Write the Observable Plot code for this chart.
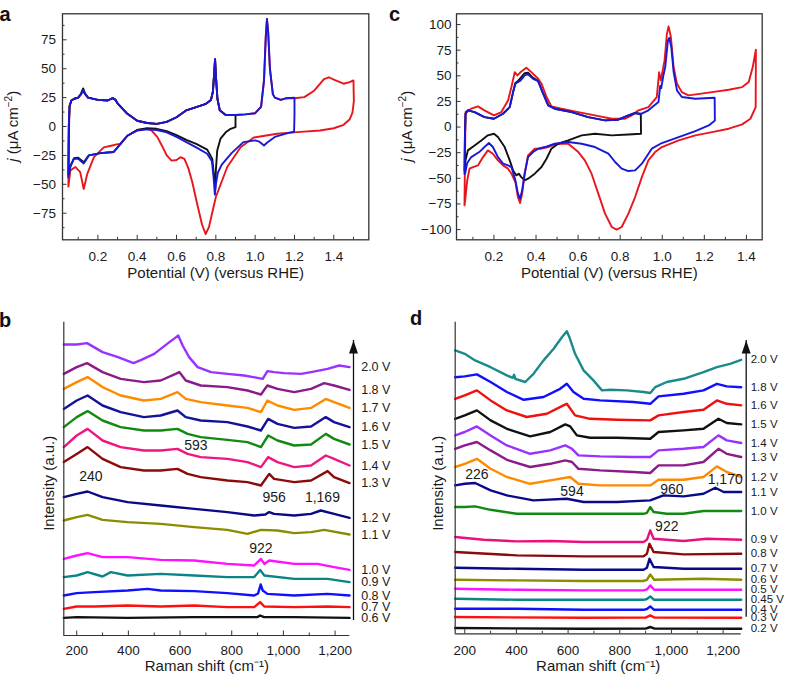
<!DOCTYPE html>
<html><head><meta charset="utf-8">
<script src="https://cdn.jsdelivr.net/npm/d3@7"></script>
<script src="https://cdn.jsdelivr.net/npm/@observablehq/plot@0.6"></script>
<style>
body{margin:0;background:#fff;}
#fig{position:relative;width:788px;height:680px;overflow:hidden;}
</style></head><body><div id="fig"></div><script>
// ---------- Panel a : CV (potential V, current density µA cm^-2) ----------
const aRed = [[0.05,-52],[0.052,-10],[0.056,17],[0.065,22.5],[0.08,24],[0.1,25],[0.113,27.5],[0.125,31],[0.135,28],[0.15,25],[0.2,23],[0.25,22.5],[0.275,24.5],[0.29,23],[0.3,20],[0.35,11],[0.4,5],[0.45,3],[0.5,2.3],[0.55,4],[0.6,8],[0.65,14],[0.7,16.7],[0.75,19.6],[0.775,23],[0.785,30],[0.791,45],[0.796,58],[0.801,42],[0.808,24],[0.82,14],[0.85,10],[0.9,10],[0.95,10.5],[1.0,11.5],[1.03,17],[1.045,40],[1.054,78],[1.06,93],[1.066,82],[1.075,50],[1.09,28],[1.1,25],[1.13,23],[1.16,24.5],[1.2,24.5],[1.25,25.4],[1.3,31],[1.35,41],[1.375,42.6],[1.4,40.5],[1.45,37],[1.48,38.4],[1.5,39.8],[1.502,22],[1.495,12],[1.48,6],[1.45,1.5],[1.4,-1.5],[1.33,-3.5],[1.23,-4.6],[1.112,-6.3],[0.993,-9.5],[0.926,-18],[0.858,-35],[0.8,-61],[0.765,-87],[0.748,-93],[0.73,-85],[0.705,-67],[0.68,-48],[0.66,-36],[0.64,-28],[0.62,-26.5],[0.6,-29],[0.575,-29.5],[0.55,-25],[0.53,-18],[0.502,-9],[0.47,-3],[0.45,-2],[0.4,-3],[0.35,-8],[0.315,-15],[0.295,-15.5],[0.273,-16.4],[0.23,-18],[0.18,-26.5],[0.146,-41],[0.128,-54],[0.11,-39.5],[0.085,-35],[0.06,-38],[0.05,-52]];
const aBlack = [[0.05,-42],[0.052,0],[0.056,18],[0.065,22.5],[0.08,24],[0.1,25],[0.113,28],[0.125,33],[0.135,28.5],[0.15,25],[0.2,23],[0.25,22.5],[0.275,24.5],[0.29,23],[0.3,20],[0.35,11],[0.4,5],[0.45,3],[0.5,2.3],[0.55,4],[0.6,8],[0.65,14],[0.7,16.7],[0.75,19.6],[0.775,23],[0.785,30],[0.791,45],[0.796,58],[0.801,42],[0.808,24],[0.82,14],[0.85,10],[0.9,10],[0.9,-0.6],[0.875,-2],[0.85,-5],[0.824,-10.4],[0.807,-20.7],[0.8,-38],[0.797,-54],[0.79,-42],[0.782,-28],[0.756,-20],[0.7,-15],[0.65,-11.5],[0.6,-7.5],[0.55,-4],[0.5,-2],[0.45,-1.5],[0.4,-3],[0.35,-8],[0.315,-15],[0.281,-22],[0.25,-22.5],[0.213,-23],[0.154,-25],[0.128,-31],[0.1,-27],[0.078,-27.5],[0.06,-34],[0.05,-42]];
const aBlue = [[0.05,-44],[0.052,0],[0.056,18],[0.065,22.5],[0.08,24],[0.1,25],[0.113,27.5],[0.125,31.5],[0.135,28],[0.15,25],[0.2,23],[0.25,22.5],[0.275,24.5],[0.29,23],[0.3,20],[0.35,11],[0.4,5],[0.45,3],[0.5,2.3],[0.55,4],[0.6,8],[0.65,14],[0.7,16.7],[0.75,19.6],[0.775,23],[0.785,30],[0.791,45],[0.796,58.5],[0.801,42],[0.808,24],[0.82,14],[0.85,10],[0.9,10],[0.95,10.5],[1.0,11.5],[1.03,17],[1.045,40],[1.054,78],[1.06,93],[1.066,82],[1.075,50],[1.09,28],[1.1,25],[1.13,23],[1.16,24.5],[1.2,25],[1.2,10],[1.198,-4.5],[1.17,-5.5],[1.1,-9],[1.06,-14],[1.045,-16.4],[1.02,-13],[1.0,-12],[0.94,-13.5],[0.88,-23],[0.83,-33],[0.81,-40],[0.8,-50],[0.795,-59],[0.789,-45],[0.78,-30],[0.756,-23.6],[0.7,-18],[0.65,-13.5],[0.6,-9],[0.55,-5],[0.5,-3],[0.45,-2.5],[0.4,-3.5],[0.35,-8],[0.315,-15],[0.281,-22],[0.25,-22.5],[0.213,-23],[0.154,-25],[0.128,-32],[0.1,-28],[0.078,-28],[0.06,-35],[0.05,-44]];

// ---------- Panel c : CV ----------
const cRed = [[0.06,-76.4],[0.063,-20],[0.065,14.6],[0.092,17.9],[0.124,20.2],[0.155,16.3],[0.2,11.4],[0.235,14.6],[0.267,26],[0.283,39],[0.299,53.6],[0.311,50.4],[0.327,53.6],[0.354,57.9],[0.378,53.6],[0.41,47.1],[0.426,42.3],[0.45,29.3],[0.473,20.2],[0.521,17.9],[0.601,14.6],[0.68,11.4],[0.76,8.1],[0.823,8.1],[0.855,11.4],[0.887,16.3],[0.934,19.5],[0.974,29.3],[0.985,53.6],[0.993,45.5],[1.011,65],[1.022,91],[1.03,98.2],[1.041,87.8],[1.054,58.5],[1.07,42.3],[1.093,34.1],[1.125,30.9],[1.237,34.1],[1.316,36.4],[1.38,39],[1.411,43.9],[1.43,58.5],[1.445,75.4],[1.444,19.5],[1.419,8.1],[1.38,2.6],[1.316,-1.6],[1.237,-4.9],[1.157,-8.1],[1.078,-13],[0.998,-19.5],[0.966,-24.4],[0.934,-32.5],[0.903,-48.8],[0.871,-68.3],[0.839,-84.5],[0.807,-97.5],[0.783,-100],[0.76,-97.5],[0.728,-84.5],[0.696,-65],[0.664,-45.5],[0.632,-32.5],[0.601,-24.4],[0.553,-16.3],[0.521,-16.3],[0.489,-16.9],[0.458,-19.5],[0.426,-21.1],[0.394,-21.1],[0.362,-27.6],[0.346,-45.5],[0.334,-65],[0.324,-74.1],[0.314,-68.3],[0.302,-53.6],[0.283,-45.5],[0.267,-40.6],[0.243,-37.4],[0.219,-32.5],[0.195,-26],[0.171,-22.75],[0.148,-29.3],[0.124,-37.4],[0.1,-39],[0.084,-40.6],[0.073,-52],[0.063,-71.5],[0.06,-76.4]];
const cBlack = [[0.06,-42.3],[0.062,-10],[0.065,13],[0.076,16.3],[0.108,14.6],[0.155,9.75],[0.2,8.1],[0.243,13],[0.275,19.5],[0.291,34.1],[0.302,43],[0.314,45],[0.327,48],[0.346,52.6],[0.362,53],[0.386,48],[0.41,44.9],[0.434,32.5],[0.458,21.1],[0.489,17.9],[0.569,14.6],[0.648,9.75],[0.728,6.5],[0.791,7.2],[0.839,11.4],[0.871,13.7],[0.898,13],[0.899,-6.5],[0.839,-7.2],[0.76,-8.1],[0.68,-6.5],[0.617,-8.1],[0.553,-13],[0.505,-16.3],[0.473,-21.1],[0.45,-30.9],[0.426,-39],[0.394,-45.5],[0.362,-50.4],[0.346,-52],[0.33,-48.8],[0.318,-45.5],[0.306,-47.1],[0.291,-42.3],[0.275,-32.5],[0.251,-19.5],[0.219,-9.75],[0.2,-6.5],[0.171,-8.1],[0.14,-13],[0.108,-17.9],[0.076,-22.75],[0.065,-32.5],[0.06,-42.3]];
const cBlue = [[0.06,-45.5],[0.062,-10],[0.065,13],[0.076,16.3],[0.108,14.6],[0.155,9.75],[0.2,8.1],[0.243,13],[0.275,19.5],[0.291,34.1],[0.302,42.3],[0.314,43.9],[0.327,45.5],[0.346,50.4],[0.362,51.4],[0.386,47.1],[0.41,44.9],[0.434,32.5],[0.458,21.1],[0.489,17.9],[0.569,14.6],[0.648,9.75],[0.728,6.5],[0.791,7.2],[0.839,11.4],[0.871,13.7],[0.895,12.4],[0.934,16.3],[0.982,24.4],[0.99,40],[0.995,38],[1.005,50],[1.014,58.5],[1.027,84.5],[1.033,87.1],[1.043,78],[1.054,53.6],[1.07,35.75],[1.093,29.3],[1.157,27.6],[1.249,28.6],[1.25,6.5],[1.221,1.6],[1.157,-3.9],[1.078,-9.75],[0.998,-15.6],[0.95,-21.1],[0.903,-35.75],[0.871,-42.3],[0.839,-42.9],[0.807,-40.6],[0.776,-34.1],[0.744,-26],[0.712,-22.75],[0.68,-19.5],[0.617,-16.3],[0.553,-14.6],[0.489,-16.3],[0.442,-19.5],[0.41,-21.1],[0.386,-24.4],[0.362,-29.3],[0.346,-45.5],[0.334,-61.75],[0.324,-69.9],[0.314,-65],[0.302,-52],[0.283,-39],[0.267,-37.4],[0.243,-35.75],[0.219,-29.3],[0.195,-19.5],[0.176,-15.6],[0.155,-19.5],[0.13,-24.4],[0.092,-29.3],[0.073,-35],[0.063,-45.5],[0.06,-45.5]];

// ---------- Panel b : Raman spectra (shift cm^-1, intensity a.u., offset) ----------
const b20 = [[150,145.5],[200,145.5],[240,146.2],[300,141.7],[360,139.2],[420,136.2],[450,137.8],[500,140.8],[550,145.8],[585,149.2],[593,150],[610,145],[635,139.2],[668,134.2],[720,131.7],[783,130.8],[848,130],[900,128.8],[920,128.3],[938,132.2],[964,131.7],[1003,131.2],[1068,130.8],[1107,131.7],[1171,133.3],[1216,135],[1256,134.2]];
const b18 = [[150,130.8],[200,134.2],[240,136.2],[300,131.7],[370,128.3],[460,126.7],[525,127.5],[583,130.8],[597,131.7],[622,127.5],[680,125],[783,124.2],[861,122.5],[913,120.5],[938,125],[977,123.3],[1042,121.7],[1107,123.3],[1158,126.2],[1196,125],[1256,122.8]];
const b17 = [[150,123.3],[200,126.7],[242,129.2],[300,124.2],[370,120],[460,117.5],[525,118.3],[590,121.7],[622,118.3],[680,116.7],[783,115],[861,113.8],[913,111.7],[938,117.5],[977,115],[1042,112.8],[1107,113.8],[1164,118.3],[1196,116.7],[1256,113.8]];
const b16 = [[150,113.3],[200,117.5],[242,120],[300,115],[370,111.7],[460,109.2],[525,110],[590,112.5],[622,109.2],[680,107.5],[783,106.7],[861,104.5],[913,102.5],[941,108.3],[977,105.8],[1042,103.8],[1107,104.5],[1164,109.2],[1196,106.7],[1256,104.2]];
const b15 = [[150,104.2],[200,109.2],[242,112.2],[300,107.5],[370,104.2],[460,102.5],[525,102.5],[590,103.3],[629,100.8],[680,99.2],[783,97.8],[861,96.7],[913,94.2],[941,100],[977,97.5],[1042,95],[1107,95.5],[1164,100.8],[1196,98.3],[1256,95.5]];
const b14 = [[150,94.2],[200,100],[242,103.3],[300,97.5],[370,94.2],[460,92.5],[525,92.5],[590,93.3],[629,90.8],[680,89.2],[783,88.3],[861,86.7],[913,84.2],[941,89.2],[977,86.7],[1042,84.2],[1107,85],[1164,90],[1196,88.3],[1256,85]];
const b13 = [[150,86.7],[200,90.8],[242,94.2],[300,88.3],[370,84.2],[460,82.5],[525,82.5],[590,83.3],[629,80.8],[680,79.2],[783,77.5],[861,76.7],[913,75],[945,80.8],[964,78.3],[1042,76.7],[1107,77.5],[1171,82.2],[1196,79.2],[1256,76.2]];
const b12 = [[150,69.2],[200,70.8],[242,72],[300,69.2],[397,66.7],[525,65],[655,63.3],[783,61.7],[887,60],[930,60.5],[945,61.7],[964,60.8],[1042,60],[1107,60.8],[1145,62.5],[1196,60.8],[1256,58.8]];
const b11 = [[150,57.5],[200,59.2],[242,60.3],[300,57.8],[397,56.7],[525,55.8],[655,54.2],[783,52.8],[861,50.8],[913,52.8],[977,52.5],[1042,51.2],[1107,51.7],[1158,52.8],[1256,50.5]];
const b10 = [[150,38.3],[200,40],[242,41.2],[300,39.2],[397,39.2],[525,37.8],[655,37.5],[783,35.8],[887,35],[913,38.3],[926,35.8],[945,37.5],[1042,35.8],[1132,35.8],[1196,34.2],[1256,32.8]];
const b09 = [[150,29.2],[200,30],[242,31.7],[300,29.5],[332,31.7],[397,30],[525,30.8],[655,30],[783,29.2],[887,29.2],[910,32.8],[926,30],[1042,28.3],[1171,28.3],[1256,26.7]];
const b08 = [[150,20],[200,21.2],[268,21.7],[397,22.5],[474,23.3],[525,22.5],[655,22.2],[783,21.2],[887,20],[902,21],[912,25.5],[920,22.5],[938,20.8],[1042,20],[1171,20.8],[1256,20]];
const b07 = [[150,13.3],[200,14.5],[268,14.5],[397,15],[525,14.5],[655,15],[783,14.2],[887,14.2],[910,16.7],[926,14.5],[1042,14.2],[1171,14.5],[1256,14.2]];
const b06 = [[150,8.8],[200,9.2],[397,8.8],[655,9.2],[900,9.2],[910,10],[925,9.2],[1042,9.2],[1256,8.8]];
const bSeries = [["2.0 V",b20],["1.8 V",b18],["1.7 V",b17],["1.6 V",b16],["1.5 V",b15],["1.4 V",b14],["1.3 V",b13],["1.2 V",b12],["1.1 V",b11],["1.0 V",b10],["0.9 V",b09],["0.8 V",b08],["0.7 V",b07],["0.6 V",b06]];
const bPeaks = [{t:"240",x:255,y:79.5},{t:"593",x:661,y:95},{t:"956",x:964,y:68.8},{t:"1,169",x:1151,y:68.8},{t:"922",x:913,y:43.7}];

// ---------- Panel d : Raman spectra ----------
const d20 = [[163,141.7],[200,140],[240,136.7],[300,133.3],[363,129.2],[386,128],[391,129.5],[396,127.5],[434,125.9],[466,130],[505,136.7],[544,142.5],[576,148.3],[595,151.3],[605,148.3],[627,140],[660,131.7],[698,126.7],[731,121.7],[763,122],[827,121.7],[892,120.9],[918,120.4],[937,123.3],[982,125.9],[1047,127.5],[1124,130.8],[1176,133.3],[1227,135],[1270,137]];
const d18 = [[163,128.3],[200,128.7],[247,129.7],[300,125.9],[363,120.9],[428,117],[505,118.4],[569,122.5],[595,125],[621,120.9],[660,117.5],[724,116.7],[853,115.9],[918,115],[950,118.7],[1047,120],[1124,121.7],[1176,125],[1214,123.7],[1270,123.3]];
const d16 = [[163,117.5],[200,119.2],[247,121.7],[300,116.7],[363,111.7],[440,108.4],[518,110],[582,114.2],[595,115],[627,109.2],[685,107.5],[789,107],[918,106.7],[950,109.2],[1047,110.9],[1124,112],[1176,116.7],[1214,115],[1270,114.2]];
const d15 = [[163,107.5],[200,109.2],[247,111.7],[300,106.7],[363,102.5],[453,98.7],[531,100.9],[589,104.7],[608,103.7],[634,99.2],[685,98],[789,98],[918,97.5],[950,100.9],[1047,101.7],[1124,102.5],[1182,107.5],[1214,105.4],[1270,104.7]];
const d14 = [[163,99.2],[200,100.9],[247,103.7],[300,99.2],[363,94.2],[453,90],[531,91.7],[589,94.2],[615,92.5],[640,89.2],[724,88.7],[853,88.4],[918,88.4],[950,91.7],[1047,92.5],[1124,93.4],[1182,99.2],[1214,96.7],[1270,95.4]];
const d13 = [[163,92.5],[200,94.2],[247,95.9],[300,91.7],[363,87],[453,83.4],[531,85],[589,86.7],[615,85.9],[640,82.5],[724,81.7],[853,80.9],[918,80.4],[950,84.2],[1047,84.2],[1124,85.9],[1182,92.5],[1214,90],[1270,88.4]];
const d12 = [[163,83.4],[200,85],[247,87.5],[300,82.5],[363,78.4],[453,75],[531,76.7],[608,78.4],[640,75],[724,74.2],[853,74.2],[918,74.2],[950,77],[1047,77],[1124,78.4],[1176,83.7],[1214,80.9],[1270,78.4]];
const d11 = [[163,74.2],[200,75],[240,75.4],[300,71.7],[363,69.2],[466,66.7],[595,67.5],[660,65.9],[789,65.9],[918,66.7],[969,69.2],[1047,68.7],[1124,70],[1170,73],[1202,70.9],[1270,70.9]];
const d10 = [[163,63.4],[200,63.4],[240,63.7],[300,62],[402,60],[531,60],[660,60],[789,60],[892,60],[905,60.5],[918,63.4],[931,60.9],[982,60],[1047,60],[1124,61.4],[1270,61.4]];
const d09 = [[163,48.4],[273,47],[402,46.2],[531,46.4],[660,45.9],[789,45.9],[892,45.9],[905,47],[918,51.7],[931,47.5],[1047,46.4],[1137,47.5],[1270,47]];
const d08 = [[163,40.9],[402,39.2],[660,38.7],[892,38.7],[905,40],[915,45],[931,40.9],[1047,39.7],[1270,40]];
const d07 = [[163,33],[402,32.5],[660,32],[892,32],[905,33],[915,37.5],[931,33.4],[1047,32.5],[1270,32.5]];
const d06 = [[163,27],[402,26.7],[660,26.4],[892,26.4],[905,27],[918,29.7],[933,27],[1124,27.5],[1270,27]];
const d05 = [[163,22.5],[402,22],[660,21.7],[892,21.7],[905,22.2],[918,24.2],[933,22],[1270,22]];
const d045 = [[163,17.5],[402,17],[660,17],[892,17],[905,17.4],[918,18.7],[933,17],[1270,17]];
const d04 = [[163,12.5],[402,12.5],[660,12],[892,12],[905,12.4],[918,13.7],[933,12],[1270,12]];
const d03 = [[163,8.4],[660,8],[900,8.1],[918,9.2],[935,8.1],[1270,8]];
const d02 = [[163,2.9],[660,2.5],[900,2.6],[918,3.4],[935,2.6],[1270,2.5]];
const dSeries = [["2.0 V",d20],["1.8 V",d18],["1.6 V",d16],["1.5 V",d15],["1.4 V",d14],["1.3 V",d13],["1.2 V",d12],["1.1 V",d11],["1.0 V",d10],["0.9 V",d09],["0.8 V",d08],["0.7 V",d07],["0.6 V",d06],["0.5 V",d05],["0.45 V",d045],["0.4 V",d04],["0.3 V",d03],["0.2 V",d02]];
const dPeaks = [{t:"226",x:247,y:79.7},{t:"594",x:615,y:70.9},{t:"960",x:1002,y:72},{t:"1,170",x:1208,y:77},{t:"922",x:982,y:53.4}];

// ---------- styles ----------
const bColors = {"2.0 V":"#9932ff","1.8 V":"#8b1a8b","1.7 V":"#ff8a00","1.6 V":"#13139a","1.5 V":"#118a11","1.4 V":"#f0167f","1.3 V":"#8b0a0a","1.2 V":"#0a0a88","1.1 V":"#8c8c00","1.0 V":"#ff10ff","0.9 V":"#0a8484","0.8 V":"#1010ff","0.7 V":"#ff1010","0.6 V":"#111111"};
const dColors = {"2.0 V":"#1a8a8a","1.8 V":"#1010ff","1.6 V":"#f01010","1.5 V":"#111111","1.4 V":"#9932ff","1.3 V":"#8b1a8b","1.2 V":"#ff8a00","1.1 V":"#0a0a88","1.0 V":"#118a11","0.9 V":"#e8107e","0.8 V":"#8b0a0a","0.7 V":"#0a0a88","0.6 V":"#8c8c00","0.5 V":"#ff10ff","0.45 V":"#0a8484","0.4 V":"#1010ff","0.3 V":"#ff1010","0.2 V":"#111111"};
const FONT = "'Liberation Sans', Arial, Helvetica, sans-serif";
const INK = "#1a1a1a";
const fig = document.getElementById("fig");
function place(node, left, top){ node.style.position="absolute"; node.style.left=left+"px"; node.style.top=top+"px"; fig.appendChild(node); }
function rotLabel(svg, x, y, parts){
  const t = d3.select(svg).append("text").attr("transform",`translate(${x},${y}) rotate(-90)`)
    .attr("text-anchor","middle").attr("font-size",15).attr("fill",INK);
  parts(t);
}
function letter(svg, x, y, s){
  d3.select(svg).append("text").attr("x",x).attr("y",y).attr("font-size",20).attr("font-weight","bold").attr("fill","#111").text(s);
}
const range = (a,b,s) => d3.range(a, b + s/2, s).map(v => +v.toFixed(4));

function cvPanel(o){
  const W=394,H=300,mT=13.3,mB=60.7,mL=62,mR=o.mR;
  const fw=W-mL-mR, fh=H-mT-mB;
  const svg = Plot.plot({
    width:W, height:H, marginTop:mT, marginBottom:mB, marginLeft:mL, marginRight:mR,
    x:{domain:o.xDomain}, y:{domain:o.yDomain},
    style:{fontFamily:FONT, fontSize:"13.5px", color:INK, background:"transparent", overflow:"visible"},
    marks:[
      ...o.curves.map(c => Plot.line(c[0], {x:d=>d[0], y:d=>d[1], stroke:c[1], strokeWidth:1.9, strokeLinejoin:"round"})),
      Plot.frame({stroke:"#333", strokeWidth:1.3}),
      Plot.tickX(o.xMajor, {x:d=>d, insetTop:fh-4.5, stroke:"#333"}),
      Plot.tickX(o.xMinor, {x:d=>d, insetTop:fh-2.5, stroke:"#333"}),
      Plot.tickY(o.yMajor, {y:d=>d, insetRight:fw-4.5, stroke:"#333"}),
      Plot.tickY(o.yMinor, {y:d=>d, insetRight:fw-2.5, stroke:"#333"}),
      Plot.axisX({ticks:o.xMajor, tickSize:0, tickPadding:12, tickFormat:d3.format(".1f"), label:null}),
      Plot.axisY({ticks:o.yMajor, tickSize:0, tickPadding:o.yPad, tickFormat:d3.format("d"), label:null}),
      Plot.text(["Potential (V) (versus RHE)"], {text:d=>d, frameAnchor:"bottom", dy:37.7, fontSize:15})
    ]
  });
  rotLabel(svg, 18, (mT+H-mB)/2, t => {
    t.append("tspan").attr("font-style","italic").text("j");
    t.append("tspan").text(" (μA cm");
    t.append("tspan").attr("font-size",10).attr("dy",-6).text("−2");
    t.append("tspan").attr("dy",6).text(")");
  });
  letter(svg, o.letterX, 21, o.letter);
  return svg;
}

const arrowHead = {draw(ctx){ ctx.moveTo(0,0); ctx.lineTo(4.5,13); ctx.lineTo(-4.5,13); ctx.closePath(); }};

function ramanPanel(o){
  const W=394,H=380;
  const fh=H-o.mT-o.mB;
  const major = range(200,1200,200), minor = range(300,1100,200);
  const series = o.series.map(([v,pts]) => ({v, pts, last: pts[pts.length-1][1]}));
  const svg = Plot.plot({
    width:W, height:H, marginTop:o.mT, marginBottom:o.mB, marginLeft:o.mL, marginRight:o.mR,
    x:{domain:o.xDomain}, y:{domain:o.yDomain, axis:null},
    style:{fontFamily:FONT, fontSize:"13.5px", color:INK, background:"transparent", overflow:"visible"},
    marks:[
      ...series.map(s => Plot.line(s.pts, {x:d=>d[0], y:d=>d[1], stroke:o.colors[s.v], strokeWidth:2.4, strokeLinejoin:"round"})),
      Plot.ruleX([o.xDomain[0]], {stroke:"#333", strokeWidth:1.2}),
      Plot.ruleY([o.yDomain[0]], {stroke:"#333", strokeWidth:1.2}),
      Plot.tickX(major, {x:d=>d, insetTop:fh-4.5, stroke:"#333"}),
      Plot.tickX(minor, {x:d=>d, insetTop:fh-2.5, stroke:"#333"}),
      Plot.axisX({ticks:major, tickSize:0, tickPadding:o.xPad, tickFormat:d3.format(","), label:null}),
      Plot.text(["Raman shift (cm⁻¹)"], {text:d=>d, frameAnchor:"bottom", dy:o.titleDy, fontSize:15}),
      Plot.text(series, {y:"last", text:"v", frameAnchor:"right", textAnchor:"start", dx:o.labelDx, fontSize:o.labelSize, fill:INK}),
      Plot.ruleX([o.arrow], {x:o.xDomain[1], y1:"y1", y2:"y2", dx:o.arrowDx, stroke:"#111", strokeWidth:1.3}),
      Plot.dot([o.arrow], {x:o.xDomain[1], y:"y2", dx:o.arrowDx, symbol:arrowHead, fill:"#111", stroke:null}),
      Plot.text(o.peaks, {x:"x", y:"y", text:"t", fontSize:14, fill:INK})
    ]
  });
  rotLabel(svg, o.yLabelX, 183.3, t => t.text("Intensity (a.u.)"));
  letter(svg, o.letterX, o.letterY, o.letter);
  return svg;
}

place(cvPanel({curves:[[aRed,"#e8161c"],[aBlack,"#111"],[aBlue,"#1818d8"]], xDomain:[0.02,1.578], yDomain:[-98,97.5],
  xMajor:range(0.2,1.4,0.2), xMinor:range(0.1,1.5,0.2), yMajor:range(-75,75,25), yMinor:range(-87.5,87.5,25),
  mR:25.7, yPad:6.5, letter:"a", letterX:5}), 0, 0);
place(cvPanel({curves:[[cRed,"#e8161c"],[cBlack,"#111"],[cBlue,"#1818d8"]], xDomain:[0.022,1.475], yDomain:[-110,110.5],
  xMajor:range(0.2,1.4,0.2), xMinor:range(0.1,1.4,0.2), yMajor:range(-100,100,25), yMinor:range(-87.5,87.5,25),
  mR:26.3, yPad:5, letter:"c", letterX:0.5}), 394, 0);
place(ramanPanel({series:bSeries, colors:bColors, peaks:bPeaks, xDomain:[150,1257], yDomain:[0,156.65],
  mT:21.7, mB:45, mL:63.3, mR:44.7, xPad:10, titleDy:35, labelDx:11.4, labelSize:12.5, arrowDx:3.7, arrow:{y1:7.5,y2:147.5},
  yLabelX:54, letter:"b", letterX:5, letterY:27}), 0, 300);
place(ramanPanel({series:dSeries, colors:dColors, peaks:dPeaks, xDomain:[163,1270], yDomain:[0,155.8],
  mT:21.7, mB:46.7, mL:60.7, mR:47.3, xPad:11.5, titleDy:36.7, labelDx:9.5, labelSize:11.5, arrowDx:5, arrow:{y1:8.3,y2:146.7},
  yLabelX:49, letter:"d", letterX:22, letterY:25}), 394, 300);
</script></body></html>
